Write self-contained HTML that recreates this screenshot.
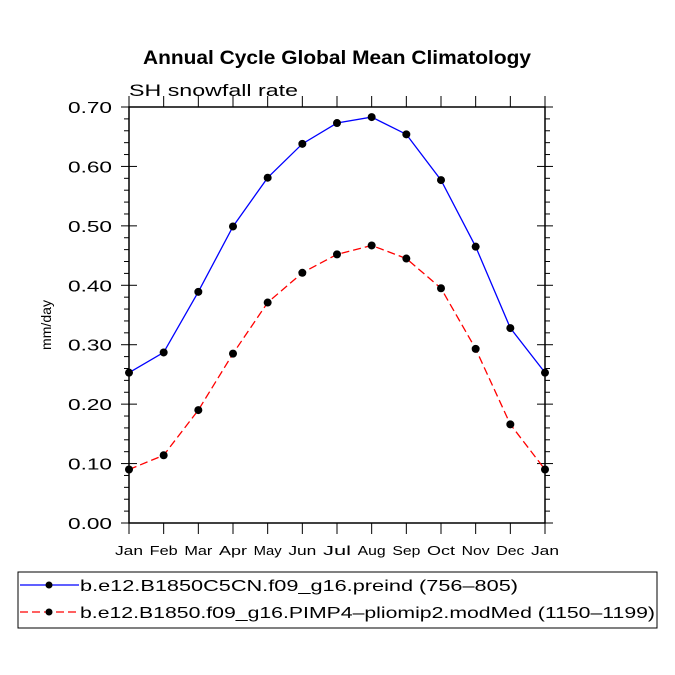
<!DOCTYPE html>
<html><head><meta charset="utf-8"><style>body{margin:0;background:#fff}svg{display:block}</style></head>
<body>
<svg id="chart" width="675" height="675" xmlns="http://www.w3.org/2000/svg" font-family="'Liberation Sans', sans-serif">
<rect width="675" height="675" fill="#fff"/>
<text x="143" y="64" font-size="19" font-weight="bold" textLength="388" lengthAdjust="spacingAndGlyphs">Annual Cycle Global Mean Climatology</text>
<text x="129" y="96" font-size="17" fill="#000" textLength="169" lengthAdjust="spacingAndGlyphs">SH snowfall rate</text>
<text transform="translate(51,325) rotate(-90)" font-size="14" text-anchor="middle" textLength="50" lengthAdjust="spacingAndGlyphs">mm/day</text>
<g id="axes"></g>
<g id="series"></g>
<rect x="18" y="572" width="639" height="56" fill="none" stroke="#000" stroke-width="1"/>
<line x1="20" y1="585" x2="79" y2="585" stroke="#0000ff" stroke-width="1.3"/>
<circle cx="49" cy="585" r="3.5" fill="#000"/>
<text x="80" y="591" font-size="16" textLength="438" lengthAdjust="spacingAndGlyphs">b.e12.B1850C5CN.f09_g16.preind (756–805)</text>
<line x1="20" y1="612" x2="79" y2="612" stroke="#ff0000" stroke-width="1.3" stroke-dasharray="8,4"/>
<circle cx="49" cy="612" r="3.5" fill="#000"/>
<text x="80" y="618" font-size="16" textLength="575" lengthAdjust="spacingAndGlyphs">b.e12.B1850.f09_g16.PIMP4–pliomip2.modMed (1150–1199)</text>
</svg>
<script>
const months=["Jan","Feb","Mar","Apr","May","Jun","Jul","Aug","Sep","Oct","Nov","Dec","Jan"];
const preind=[0.253,0.287,0.389,0.499,0.581,0.638,0.673,0.683,0.654,0.577,0.465,0.328,0.253];
const pliomip=[0.090,0.114,0.190,0.285,0.371,0.421,0.452,0.467,0.445,0.395,0.293,0.166,0.090];
const yTicks=[0,0.1,0.2,0.3,0.4,0.5,0.6,0.7];
const yLabels=["0.00","0.10","0.20","0.30","0.40","0.50","0.60","0.70"];
const NS="http://www.w3.org/2000/svg";
const L=129,R=545,T=107,B=523,yMax=0.7;
const xs=i=>L+(R-L)*i/(months.length-1);
const ys=v=>B-(B-T)*v/yMax;
function mk(t,a,p){const e=document.createElementNS(NS,t);for(const k in a)e.setAttribute(k,a[k]);p.appendChild(e);return e;}
const ax=document.getElementById('axes');
const fr=mk('rect',{x:L,y:T,width:R-L,height:B-T,fill:'none',stroke:'#000','stroke-width':1.5},ax);


for(let v=0;v<=0.7001;v+=0.02){
  const y=ys(v);const major=Math.abs(v*10-Math.round(v*10))<1e-6;const l=major?8:5;
  const a=mk('line',{x1:L-l,y1:y,x2:L+(major?8:0),y2:y,stroke:'#000','stroke-width':1},ax);
  
  
  const b=mk('line',{x1:R-(major?8:0),y1:y,x2:R+l,y2:y,stroke:'#000','stroke-width':1},ax);
  
  
}
yTicks.forEach((v,i)=>{
  const t=mk('text',{x:112,y:ys(v)+6,'text-anchor':'end','font-size':16,textLength:44,lengthAdjust:'spacingAndGlyphs'},ax);t.textContent=yLabels[i];
  
  
});
months.forEach((m,i)=>{
  const x=xs(i);
  const a=mk('line',{x1:x,y1:B,x2:x,y2:B+11,stroke:'#000','stroke-width':1},ax);
  
  
  const b=mk('line',{x1:x,y1:T-11,x2:x,y2:T,stroke:'#000','stroke-width':1},ax);
  
  
  const t=mk('text',{x:x,y:B+32,'text-anchor':'middle','font-size':13,textLength:28,lengthAdjust:'spacingAndGlyphs'},ax);t.textContent=m;
  
  
});
const sg=document.getElementById('series');
function series(vals,color,dash,name){
  const p=mk('polyline',{points:vals.map((v,i)=>xs(i)+','+ys(v)).join(' '),fill:'none',stroke:color,'stroke-width':1.3},sg);
  if(dash)p.setAttribute('stroke-dasharray',dash);
  
  
  vals.forEach((v,i)=>{const c=mk('circle',{cx:xs(i),cy:ys(v),r:4,fill:'#000'},sg);
    
    });
}
series(preind,'#0000ff',null,'preind');
series(pliomip,'#ff0000','8,4','pliomip');
</script>
</body></html>
